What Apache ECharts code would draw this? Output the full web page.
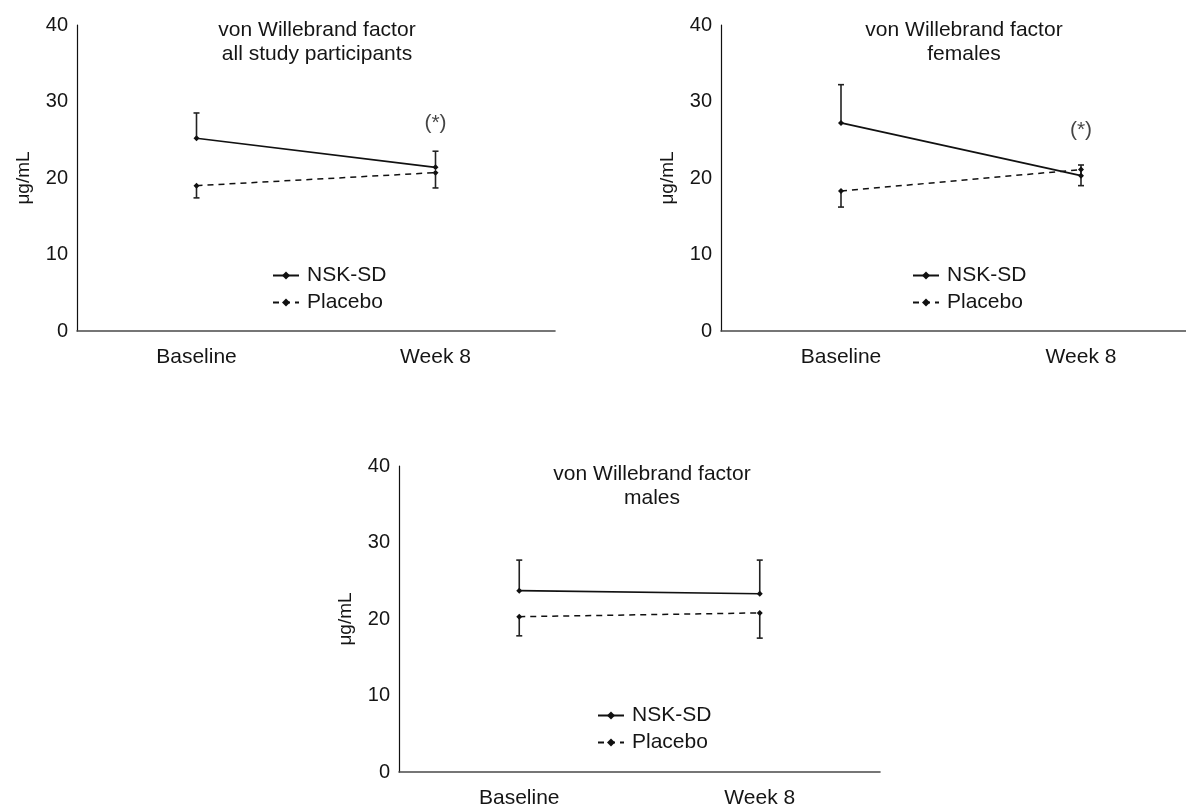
<!DOCTYPE html>
<html>
<head>
<meta charset="utf-8">
<script src="https://cdn.jsdelivr.net/npm/echarts@6/dist/echarts.min.js"></script>
<style>
html,body{margin:0;padding:0;background:#fff;}
#chart{width:1186px;height:806px;}
</style>
</head>
<body>
<div id="chart"></div>
<script>
// ---- data ----
const categories = ['Baseline', 'Week 8'];
const yTicks = [0, 10, 20, 30, 40];

const allNSK = [25.2, 21.4];
const allNSKUpper = [28.5, 23.5];
const allPlacebo = [19.0, 20.7];
const allPlaceboLower = [17.4, 18.7];
const allStar = [null, 27.2];

const femNSK = [27.2, 20.3];
const femNSKUpper = [32.2, 21.7];
const femPlacebo = [18.3, 21.1];
const femPlaceboLower = [16.2, 19.0];
const femStar = [null, 26.3];

const maleNSK = [23.7, 23.3];
const maleNSKUpper = [27.7, 27.7];
const malePlacebo = [20.3, 20.8];
const malePlaceboLower = [17.8, 17.5];

const titles = [
  'von Willebrand factor\nall study participants',
  'von Willebrand factor\nfemales',
  'von Willebrand factor\nmales'
];
const seriesNames = ['NSK-SD', 'Placebo'];
const starText = '(*)';
const yName = 'μg/mL';

// ---- layout ----
const font = '"Liberation Sans", Arial, Helvetica, sans-serif';
const textColor = '#151515';
const grids = [
  {left: 77, top: 25, width: 478, height: 306, outerBoundsMode: 'none'},
  {left: 721, top: 25, width: 480, height: 306, outerBoundsMode: 'none'},
  {left: 399, top: 466, width: 481, height: 306, outerBoundsMode: 'none'}
];
const titlePos = [
  {left: 317, top: 18},
  {left: 964, top: 18},
  {left: 652, top: 462}
];
const legendPos = [
  {left: 272, top: 265},
  {left: 912, top: 265},
  {left: 597, top: 705}
];

const panels = [
  {nsk: allNSK, nskErr: allNSKUpper, pla: allPlacebo, plaErr: allPlaceboLower, star: allStar},
  {nsk: femNSK, nskErr: femNSKUpper, pla: femPlacebo, plaErr: femPlaceboLower, star: femStar},
  {nsk: maleNSK, nskErr: maleNSKUpper, pla: malePlacebo, plaErr: malePlaceboLower, star: null}
];

function errRender(params, api) {
  const p0 = api.coord([api.value(0), api.value(1)]);
  const p1 = api.coord([api.value(0), api.value(2)]);
  const cap = 3;
  const style = {stroke: '#222', lineWidth: 1.6};
  return {
    type: 'group',
    children: [
      {type: 'line', shape: {x1: p0[0], y1: p0[1], x2: p1[0], y2: p1[1]}, style: style},
      {type: 'line', shape: {x1: p1[0] - cap, y1: p1[1], x2: p1[0] + cap, y2: p1[1]}, style: style}
    ]
  };
}

const xAxes = [], yAxes = [], series = [], title = [], legend = [];
panels.forEach((p, i) => {
  xAxes.push({
    type: 'category', gridIndex: i, data: categories, boundaryGap: true,
    axisLine: {show: true, lineStyle: {color: '#4a4a4a', width: 1.6}},
    axisTick: {show: false},
    axisLabel: {fontSize: 21, color: textColor, margin: 16, fontFamily: font}
  });
  yAxes.push({
    type: 'value', gridIndex: i, min: yTicks[0], max: yTicks[yTicks.length - 1], interval: 10,
    splitLine: {show: false},
    axisLine: {show: true, onZero: false, lineStyle: {color: '#111', width: 1.2}},
    axisTick: {show: false},
    axisLabel: {fontSize: 20, color: textColor, margin: 9, fontFamily: font},
    name: yName, nameLocation: 'middle', nameGap: 44,
    nameTextStyle: {fontSize: 19, color: textColor, fontFamily: font}
  });
  title.push({
    text: titles[i], left: titlePos[i].left, top: titlePos[i].top, textAlign: 'center', padding: 0,
    textStyle: {fontSize: 21, fontWeight: 'normal', color: textColor, lineHeight: 24, fontFamily: font}
  });
  legend.push({
    orient: 'vertical', left: legendPos[i].left, top: legendPos[i].top, padding: 0,
    itemWidth: 26, itemHeight: 10, itemGap: 6,
    data: seriesNames,
    textStyle: {fontSize: 21, lineHeight: 20, color: textColor, fontFamily: font, padding: [0, 0, 0, 3]}
  });
  // error bars
  series.push({
    type: 'custom', xAxisIndex: i, yAxisIndex: i, renderItem: errRender, z: 1, silent: true,
    data: p.nsk.map((v, k) => [k, v, p.nskErr[k]])
  });
  series.push({
    type: 'custom', xAxisIndex: i, yAxisIndex: i, renderItem: errRender, z: 1, silent: true,
    data: p.pla.map((v, k) => [k, v, p.plaErr[k]])
  });
  series.push({
    name: seriesNames[0], type: 'line', xAxisIndex: i, yAxisIndex: i, data: p.nsk,
    symbol: 'diamond', symbolSize: 6, z: 3,
    lineStyle: {color: '#111', width: 1.7, type: 'solid'},
    itemStyle: {color: '#111'}
  });
  series.push({
    name: seriesNames[1], type: 'line', xAxisIndex: i, yAxisIndex: i, data: p.pla,
    symbol: 'diamond', symbolSize: 6, z: 3,
    lineStyle: {color: '#111', width: 1.5, type: [6, 5]},
    itemStyle: {color: '#111'}
  });
  if (p.star) {
    series.push({
      type: 'scatter', xAxisIndex: i, yAxisIndex: i, data: p.star,
      symbolSize: 2, itemStyle: {color: 'rgba(0,0,0,0)'}, silent: true,
      label: {show: true, position: 'inside', formatter: starText, fontSize: 21, color: textColor, fontFamily: font}
    });
  }
});

const chart = echarts.init(document.getElementById('chart'), null, {renderer: 'canvas'});
chart.setOption({
  animation: false,
  backgroundColor: '#fff',
  textStyle: {fontFamily: font},
  title: title,
  legend: legend,
  grid: grids,
  xAxis: xAxes,
  yAxis: yAxes,
  series: series
});
</script>
</body>
</html>
